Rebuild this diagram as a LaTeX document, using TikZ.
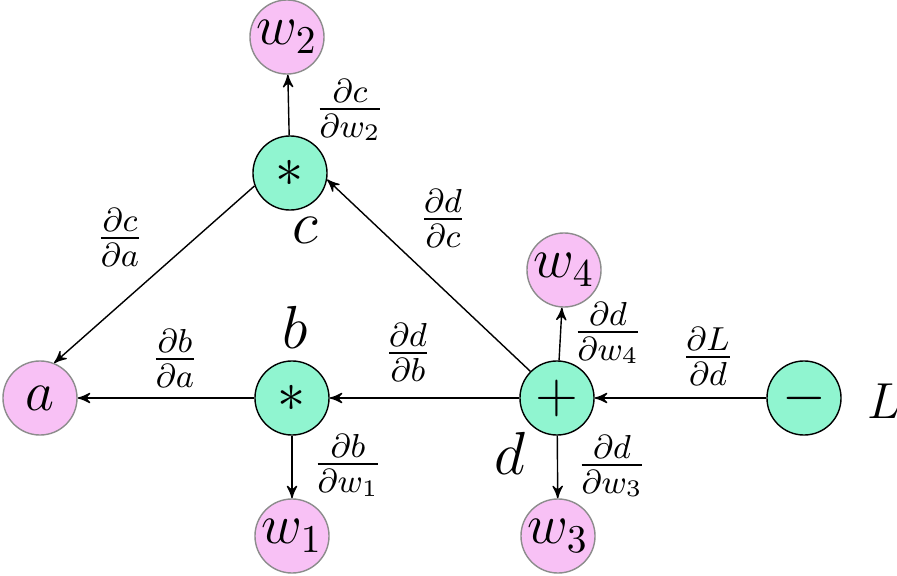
\documentclass[tikz,border=0pt]{standalone}
\usepackage{amsmath, amssymb}
\usepackage{fix-cm}
\usetikzlibrary{arrows,positioning,calc}
\definecolor{opgreen}{RGB}{144,245,208}
\definecolor{varpink}{RGB}{248,193,245}

\begin{document}
\begin{tikzpicture}[line join=round, x=0.01cm, y=-0.01cm,
  op/.style={circle, draw=black, fill=opgreen, minimum size=0.74cm, inner sep=0pt, font=\fontsize{16}{19}\selectfont},
  var/.style={circle, draw=black!45, fill=varpink, minimum size=0.74cm, inner sep=0pt, font=\fontsize{16}{19}\selectfont},
  grad/.style={font=\fontsize{13.5}{16}\selectfont, inner sep=0pt},
  resname/.style={font=\LARGE, inner sep=0pt},
  edge/.style={-stealth', thin}]
\useasboundingbox (0,0) rectangle (897,576);
% operations
\node[op] (c) at (290,173) {$*$};
\node[op] (b) at (292,398) {$*$};
\node[op] (d) at (557,398) {$+$};
\node[op] (L) at (804,398) {$-$};
% variables
\node[var] (a) at (40,398) {$a$};
\node[var] (w2) at (287,37) {$w_2$};
\node[var] (w1) at (292,536) {$w_1$};
\node[var] (w4) at (564,270) {$w_4$};
\node[var] (w3) at (558,536) {$w_3$};
% names of the results
\node[resname] (cname) at (305,230) {$c$};
\node[resname] (bname) at (295,327) {$b$};
\node[resname] (dname) at (510,453) {$d$};
\node[resname, font=\Large] (Lname) at (884,401) {$L$};
% backward edges
\draw[edge] (c) -- (w2);
\draw[edge] (c.200) -- (a.68);
\draw[edge] (b) -- (a);
\draw[edge] (b) -- (w1);
\draw[edge] (d.135) -- (c.-10);
\draw[edge] (d) -- (b);
\draw[edge] (d) -- (w4);
\draw[edge] (d) -- (w3);
\draw[edge] (L) -- (d);
% local gradients
\node[grad] (gcw2) at (350,110) {$\frac{\partial c}{\partial w_2}$};
\node[grad] (gdc) at (443,218) {$\frac{\partial d}{\partial c}$};
\node[grad] (gca) at (120,237) {$\frac{\partial c}{\partial a}$};
\node[grad] (gba) at (175,358) {$\frac{\partial b}{\partial a}$};
\node[grad] (gdb) at (408,352) {$\frac{\partial d}{\partial b}$};
\node[grad] (gbw1) at (348,465) {$\frac{\partial b}{\partial w_1}$};
\node[grad] (gdw4) at (608,333) {$\frac{\partial d}{\partial w_4}$};
\node[grad] (gdw3) at (612,466) {$\frac{\partial d}{\partial w_3}$};
\node[grad] (gLd) at (708,356) {$\frac{\partial L}{\partial d}$};
\end{tikzpicture}
\end{document}
